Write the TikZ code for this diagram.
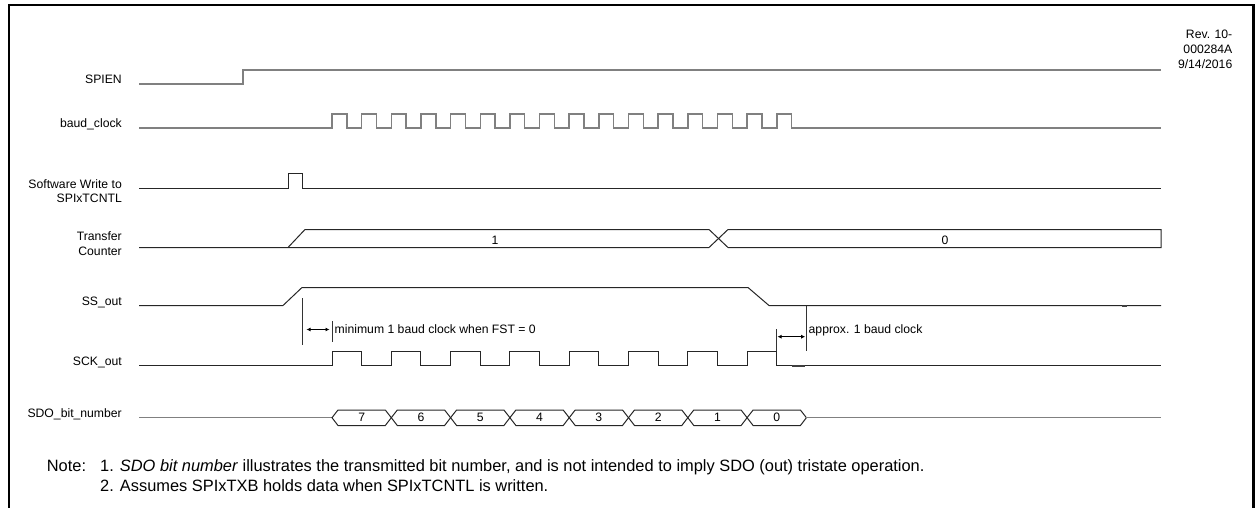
\documentclass[tikz,border=0pt]{standalone}
\usepackage{fontspec}
\setmainfont{Liberation Sans}
\usetikzlibrary{arrows.meta}
\newcommand\lblfont{\fontsize{12.2}{14}\selectfont}
\newcommand\notefont{\fontsize{16.4}{19}\selectfont}
\begin{document}
\begin{tikzpicture}[x=1pt,y=-1pt,
  sig/.style={line width=1pt, black!85},
  gsig/.style={line width=1.5pt, black!50},
  lbl/.style={anchor=base east, font=\lblfont, inner sep=0pt},
  txt/.style={anchor=base west, font=\lblfont, inner sep=0pt},
  digit/.style={anchor=base, font=\lblfont, inner sep=0pt},
  note/.style={anchor=base west, font=\notefont, inner sep=0pt},
  dim/.style={line width=0.8pt, black, {Latex[length=4pt,width=4pt]}-{Latex[length=4pt,width=4pt]}},
  tick/.style={line width=0.8pt, black!80},
  blip/.style={line width=2pt, black!75}]
\useasboundingbox (0,0) rectangle (1258,508);
% frame
\draw[line width=2.5pt] (9,508) -- (9,5) -- (1253.5,5) -- (1253.5,508);
% revision
\node[lbl] (rev1) at (1232.5,38.3) {Rev. 10-};
\node[lbl] (rev2) at (1232.5,53.3) {000284A};
\node[lbl] (rev3) at (1232.5,68.3) {9/14/2016};
% labels
\node[lbl] (lspien) at (122,84) {SPIEN};
\node[lbl] (lbaud) at (122,128) {baud\_clock};
\node[lbl] (lsw1) at (122,188) {Software Write to};
\node[lbl] (lsw2) at (122,202.7) {SPIxTCNTL};
\node[lbl] (ltc1) at (122,240) {Transfer};
\node[lbl] (ltc2) at (122,255) {Counter};
\node[lbl] (lss) at (122,305) {SS\_out};
\node[lbl] (lsck) at (122,365) {SCK\_out};
\node[lbl] (lsdo) at (122,417.7) {SDO\_bit\_number};
% SPIEN
\draw[gsig] (139,84) -- (243,84) -- (243,70) -- (1161,70);
% baud clock
\draw[gsig] (139,128) foreach \i in {0,...,15} { -- ({332+\i*29.65},128) -- ({332+\i*29.65},114) -- ({346.8+\i*29.65},114) -- ({346.8+\i*29.65},128) } -- (1161,128);
% software write
\draw[sig] (139,188) -- (288,188) -- (288,173.5) -- (302,173.5) -- (302,188) -- (1161,188);
% transfer counter
\draw[sig] (139,247.5) -- (709,247.5) -- (728,229.5) -- (1161,229.5) -- (1161,247.5) -- (728,247.5) -- (709,229.5) -- (305,229.5) -- (288,247.5);
\node[digit] (tc1) at (495,244) {1};
\node[digit] (tc0) at (945,244) {0};
% SS_out
\draw[sig] (139,305.5) -- (283,305.5) -- (302,287.5) -- (748,287.5) -- (769,305.5) -- (1161,305.5);
\draw[blip] (1122,305.8) -- (1127,305.8);
% annotation 1
\draw[tick] (302,298) -- (302,345);
\draw[tick] (332,321) -- (332,342);
\draw[dim] (306.5,329.5) -- (329.5,329.5);
\node[txt] (a1) at (334.5,333.3) {minimum 1 baud clock when FST = 0};
% SCK_out
\draw[sig] (139,365.5) foreach \i in {0,...,7} { -- ({332+\i*59.3},365.5) -- ({332+\i*59.3},351) -- ({361.65+\i*59.3},351) -- ({361.65+\i*59.3},365.5) } -- (1161,365.5);
\draw[blip] (791.5,365.8) -- (805,365.8);
% annotation 2
\draw[tick] (776.75,329) -- (776.75,351);
\draw[tick] (806,305.5) -- (806,351);
\draw[dim] (777.5,336.7) -- (805.2,336.7);
\node[txt] (a2) at (808.5,333) {approx. 1 baud clock};
% SDO bit number
\draw[gsig, line width=1.2pt] (139,417.7) -- (332,417.7);
\foreach \k/\d in {0/7,1/6,2/5,3/4,4/3,5/2,6/1,7/0} {
  \draw[sig] ({332+\k*59.3},417.7) -- ({338+\k*59.3},410) -- ({385.3+\k*59.3},410) -- ({391.3+\k*59.3},417.7) -- ({385.3+\k*59.3},425.5) -- ({338+\k*59.3},425.5) -- cycle;
  \node[digit] (b\d) at ({361.65+\k*59.3},421.7) {\d};
}
\draw[gsig, line width=1.2pt] (806.4,417.7) -- (1161,417.7);
% notes
\node[note] (note) at (46.7,471.7) {Note:};
\node[note] (n1) at (100,471.7) {1. \textit{SDO bit number} illustrates the transmitted bit number, and is not intended to imply SDO (out) tristate operation.};
\node[note] (n2) at (100,491.7) {2. Assumes SPIxTXB holds data when SPIxTCNTL is written.};
\end{tikzpicture}
\end{document}
